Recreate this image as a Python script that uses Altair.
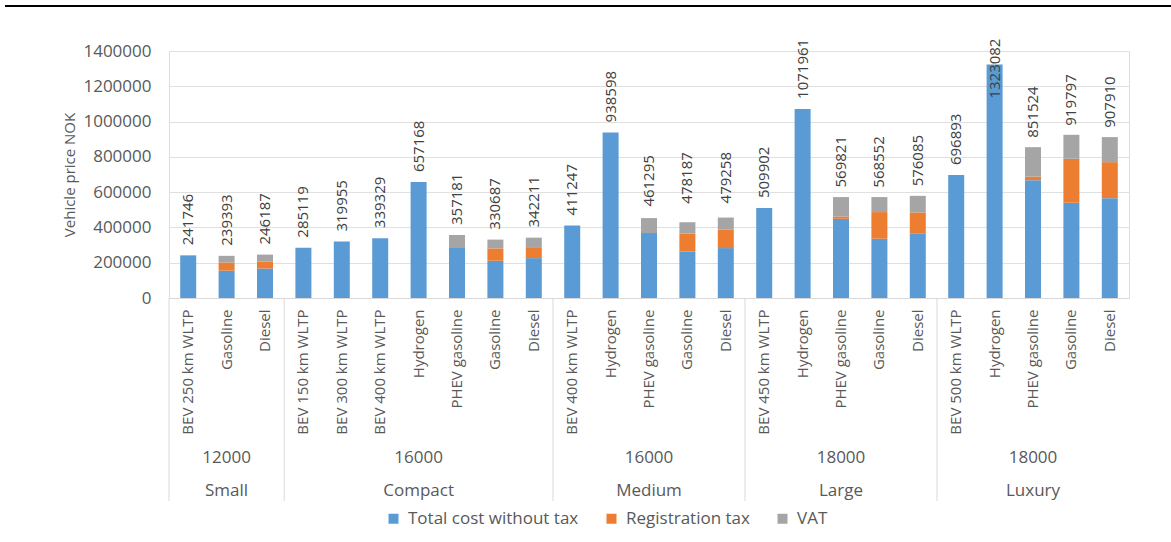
import altair as alt
import pandas as pd

# ---------------- data ----------------
size_classes = ["Small", "Compact", "Medium", "Large", "Luxury"]
annual_km = ["12000", "16000", "16000", "18000", "18000"]
group_sizes = [3, 7, 5, 5, 5]

fuels = [
    "BEV 250 km WLTP", "Gasoline", "Diesel",
    "BEV 150 km WLTP", "BEV 300 km WLTP", "BEV 400 km WLTP", "Hydrogen", "PHEV gasoline", "Gasoline", "Diesel",
    "BEV 400 km WLTP", "Hydrogen", "PHEV gasoline", "Gasoline", "Diesel",
    "BEV 450 km WLTP", "Hydrogen", "PHEV gasoline", "Gasoline", "Diesel",
    "BEV 500 km WLTP", "Hydrogen", "PHEV gasoline", "Gasoline", "Diesel",
]

cost_without_tax = [
    241746, 155000, 167000,
    285119, 319955, 339329, 657168, 288000, 211000, 226000,
    411247, 938598, 368000, 264000, 283000,
    509902, 1071961, 449000, 336000, 364000,
    696893, 1323082, 668000, 540000, 566000,
]
registration_tax = [
    0, 46000, 40000,
    0, 0, 0, 0, 0, 70000, 62000,
    0, 0, 0, 102000, 104000,
    0, 0, 13000, 151000, 121000,
    0, 0, 20000, 249000, 204000,
]
vat = [
    0, 38000, 39000,
    0, 0, 0, 0, 69000, 50000, 54000,
    0, 0, 85000, 64000, 69000,
    0, 0, 110000, 85000, 94000,
    0, 0, 167000, 136000, 142000,
]
total_labels = [
    241746, 239393, 246187,
    285119, 319955, 339329, 657168, 357181, 330687, 342211,
    411247, 938598, 461295, 478187, 479258,
    509902, 1071961, 569821, 568552, 576085,
    696893, 1323082, 851524, 919797, 907910,
]

series_names = ["Total cost without tax", "Registration tax", "VAT"]
series_colors = ["#5B9BD5", "#ED7D31", "#A5A5A5"]
y_ticks = [0, 200000, 400000, 600000, 800000, 1000000, 1200000, 1400000]

# ---------------- tables ----------------
keys = [f"{i:02d}|{f}" for i, f in enumerate(fuels)]

long_rows = []
for i, k in enumerate(keys):
    for j, (name, arr) in enumerate(zip(series_names, [cost_without_tax, registration_tax, vat])):
        long_rows.append({"key": k, "series": name, "value": arr[i], "order": j})
bars_df = pd.DataFrame(long_rows)

labels_df = pd.DataFrame({"key": keys, "label": total_labels})

group_rows = []
start = 0
for name, km, n in zip(size_classes, annual_km, group_sizes):
    group_rows.append({"key": keys[start + n // 2], "start_key": keys[start], "cls": name, "km": km})
    start += n
groups_df = pd.DataFrame(group_rows)

FONT = "Open Sans"
GREY_TXT = "#595959"
W, H = 960, 247

x_scale = alt.Scale(domain=keys, paddingInner=0, paddingOuter=0)
y_scale = alt.Scale(domain=[0, 1400000], nice=False)

x_axis = alt.Axis(
    title=None,
    labelExpr="split(datum.label, '|')[1]",
    labelAngle=270,
    labelFont=FONT,
    labelFontSize=15,
    labelColor=GREY_TXT,
    labelPadding=11,
    labelLimit=300,
    ticks=False,
    domainColor="#D9D9D9",
    grid=False,
)

y_axis = alt.Axis(
    title="Vehicle price NOK",
    values=y_ticks,
    format="d",
    labelFont=FONT,
    labelFontSize=17,
    labelColor=GREY_TXT,
    labelPadding=18,
    labelOverlap=False,
    labelFlush=False,
    ticks=False,
    domain=False,
    gridColor="#E0E0E0",
    titleFont=FONT,
    titleFontSize=15,
    titleFontWeight="normal",
    titleColor=GREY_TXT,
    titleAngle=270,
    titleX=-100,
    titleY=H / 2,
    titleAlign="center",
    titleBaseline="middle",
)


def xk(field="key"):
    return alt.X(f"{field}:N", scale=x_scale, sort=keys, axis=x_axis)


bars = alt.Chart(bars_df).mark_bar(size=16).encode(
    x=xk(),
    y=alt.Y("value:Q", stack="zero", scale=y_scale, axis=y_axis),
    color=alt.Color(
        "series:N",
        scale=alt.Scale(domain=series_names, range=series_colors),
        legend=alt.Legend(
            title=None,
            orient="none",
            legendX=216,
            legendY=459,
            direction="horizontal",
            symbolType="square",
            symbolSize=100,
            symbolStrokeWidth=0,
            labelFont=FONT,
            labelFontSize=17,
            labelColor=GREY_TXT,
            labelOffset=6,
            labelLimit=400,
            columnPadding=24,
            padding=0,
        ),
    ),
    order=alt.Order("order:Q"),
)

value_labels = alt.Chart(labels_df).transform_filter("datum.label <= 1250000").mark_text(
    angle=270, align="left", baseline="middle", dx=10, font=FONT, fontSize=15, color="#404040"
).encode(
    x=xk(),
    y=alt.Y("label:Q", scale=y_scale, axis=y_axis),
    text=alt.Text("label:Q", format="d"),
)

value_labels_top = alt.Chart(labels_df).transform_filter("datum.label > 1250000").mark_text(
    angle=270, align="center", baseline="middle", dx=-4, font=FONT, fontSize=15, color="#404040"
).encode(
    x=xk(),
    y=alt.Y("label:Q", scale=y_scale, axis=y_axis),
    text=alt.Text("label:Q", format="d"),
)

km_labels = alt.Chart(groups_df).mark_text(
    font=FONT, fontSize=17, color=GREY_TXT, baseline="middle"
).encode(
    x=xk(),
    y=alt.value(407),
    text="km:N",
)

cls_labels = alt.Chart(groups_df).mark_text(
    font=FONT, fontSize=17, color=GREY_TXT, baseline="middle"
).encode(
    x=xk(),
    y=alt.value(440),
    text="cls:N",
)

separators = alt.Chart(groups_df).mark_rule(color="#D9D9D9", strokeWidth=1).encode(
    x=alt.X("start_key:N", scale=x_scale, sort=keys, bandPosition=0, axis=x_axis),
    y=alt.value(H),
    y2=alt.value(450),
)

top_line = alt.Chart(pd.DataFrame({"k": [0]})).mark_rule(color="black", strokeWidth=2).encode(
    x=alt.value(-164),
    x2=alt.value(1002),
    y=alt.value(-45),
)

chart = alt.layer(
    bars, value_labels, value_labels_top, km_labels, cls_labels, separators, top_line
).properties(
    width=W,
    height=H,
    autosize=alt.AutoSizeParams(type="none"),
    padding={"left": 169, "top": 51, "right": 1171 - 169 - W, "bottom": 542 - 51 - H},
).configure_view(stroke=None).configure(background="white")

chart.save("out.html", embed_options={"renderer": "svg", "actions": False})
